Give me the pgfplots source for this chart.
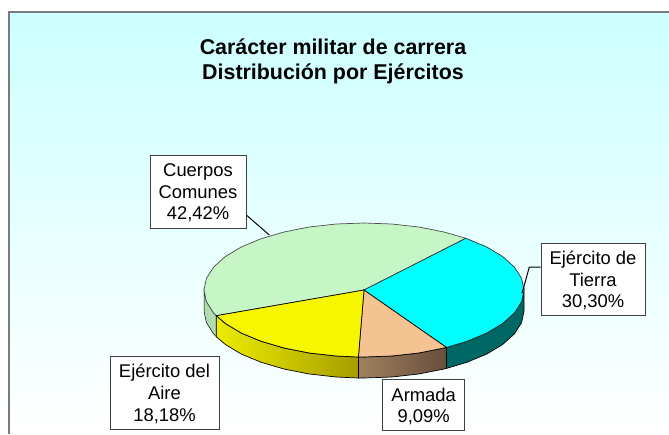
\documentclass[border=0pt]{standalone}
\usepackage{fontspec}
\setmainfont{Liberation Sans}
\usepackage{pgfplots}
\pgfplotsset{compat=1.18}

\definecolor{bgtop}{RGB}{204,255,255}
\definecolor{frame}{RGB}{120,124,124}
\definecolor{piegreen}{RGB}{198,246,198}
\definecolor{piecyan}{RGB}{0,255,255}
\definecolor{piepeach}{RGB}{245,194,145}
\definecolor{pieyellow}{RGB}{246,246,0}
\definecolor{rimgreen}{RGB}{176,220,176}
\definecolor{rimteal}{RGB}{0,104,100}
\definecolor{rimyl}{RGB}{236,236,0}
\definecolor{rimyr}{RGB}{166,158,0}
\definecolor{rimbl}{RGB}{160,128,96}
\definecolor{rimbr}{RGB}{104,78,60}

\begin{document}
\begin{tikzpicture}[
  labbox/.style={draw=black!75, fill=white, line width=0.8pt, inner sep=0pt},
  lab/.style={align=center, inner sep=0pt, font=\fontsize{18.4}{21.7}\selectfont},
]
\begin{axis}[
  scale only axis,
  width=669pt,
  height=434pt,
  xmin=0, xmax=669,
  ymin=0, ymax=434,
  y dir=reverse,
  hide axis,
  no markers,
]
% page, so the picture keeps its full size
\addplot[draw=none, fill=white] coordinates {(0,0) (669,0) (669,434) (0,434)} --cycle;
% background
\addplot[draw=none, top color=bgtop, bottom color=white]
  coordinates {(9,13) (669,13) (669,434) (9,434)} --cycle;
\addplot[frame, line width=2pt] coordinates {(8.5,434) (8.5,12) (669,12)};

% side wall
\addplot[draw=black, line width=0.5pt, fill=rimgreen]
  coordinates {(204,290) (206.4,301.6) (213.6,312.9) (216.3,315.7)
               (216.3,336.7) (213.6,333.9) (206.4,322.6) (204,311)} --cycle;
\addplot[draw=black, line width=0.7pt, left color=rimyl, right color=rimyr]
  coordinates {(216.3,315.7) (225.4,323.5) (241.4,333.1) (261.2,341.3) (284,348) (309.3,353) (336.2,356) (358.4,357)
               (358.4,378) (336.2,377) (309.3,374) (284,369) (261.2,362.3) (241.4,354.1) (225.4,344.5) (216.3,336.7)} --cycle;
\addplot[draw=black, line width=0.7pt, left color=rimbl, right color=rimbr]
  coordinates {(358.4,357) (364,357) (391.8,356) (418.7,353) (444,348) (446.4,347.4)
               (446.4,368.4) (444,369) (418.7,374) (391.8,377) (364,378) (358.4,378)} --cycle;
\addplot[draw=black, line width=0.7pt, fill=rimteal]
  coordinates {(446.4,347.4) (466.8,341.3) (486.6,333.1) (502.6,323.5) (514.4,312.9) (521.6,301.6) (524,290)
               (524,311) (521.6,322.6) (514.4,333.9) (502.6,344.5) (486.6,354.1) (466.8,362.3) (446.4,368.4)} --cycle;

% top faces
\addplot[draw=black!70, line width=0.7pt, fill=piegreen]
  coordinates {(364,290) (465.8,238.3) (444,232) (418.7,227) (391.8,224) (364,223) (336.2,224) (309.3,227) (284,232)
               (261.2,238.7) (241.4,246.9) (225.4,256.5) (213.6,267.1) (206.4,278.4) (204,290) (206.4,301.6) (213.6,312.9) (216.3,315.7)} --cycle;
\addplot[draw=black!80, line width=0.7pt, fill=piecyan]
  coordinates {(364,290) (446.4,347.4) (466.8,341.3) (486.6,333.1) (502.6,323.5) (514.4,312.9) (521.6,301.6) (524,290)
               (521.6,278.4) (514.4,267.1) (502.6,256.5) (486.6,246.9) (465.8,238.3)} --cycle;
\addplot[draw=black, line width=0.7pt, fill=piepeach]
  coordinates {(364,290) (358.4,357) (364,357) (391.8,356) (418.7,353) (444,348) (446.4,347.4)} --cycle;
\addplot[draw=black, line width=0.7pt, fill=pieyellow]
  coordinates {(364,290) (216.3,315.7) (225.4,323.5) (241.4,333.1) (261.2,341.3) (284,348) (309.3,353) (336.2,356) (358.4,357)} --cycle;

% leader lines
\addplot[black, line width=1pt] coordinates {(246.3,215) (269.3,235)};
\addplot[black, line width=1pt] coordinates {(540.7,267) (529.3,267) (522,293.3)};

% title
\node[align=center, font=\fontsize{21.4}{25}\selectfont\bfseries] at (axis cs:333,61)
  {Carácter militar de carrera\\Distribución por Ejércitos};

% labels
\node[labbox, minimum width=96pt, minimum height=73pt] at (axis cs:198,191.5) {};
\node[lab] at (axis cs:198,193) {Cuerpos\\Comunes\\42,42\%};
\node[labbox, minimum width=104pt, minimum height=72pt] at (axis cs:593,279) {};
\node[lab] at (axis cs:593,280.5) {Ejército de\\Tierra\\30,30\%};
\node[labbox, minimum width=109pt, minimum height=73pt] at (axis cs:164.5,392.5) {};
\node[lab] at (axis cs:164.5,394) {Ejército del\\Aire\\18,18\%};
\node[labbox, minimum width=82pt, minimum height=51pt] at (axis cs:423.7,405.3) {};
\node[lab] at (axis cs:423.7,406.5) {Armada\\9,09\%};
\end{axis}
\end{tikzpicture}
\end{document}
